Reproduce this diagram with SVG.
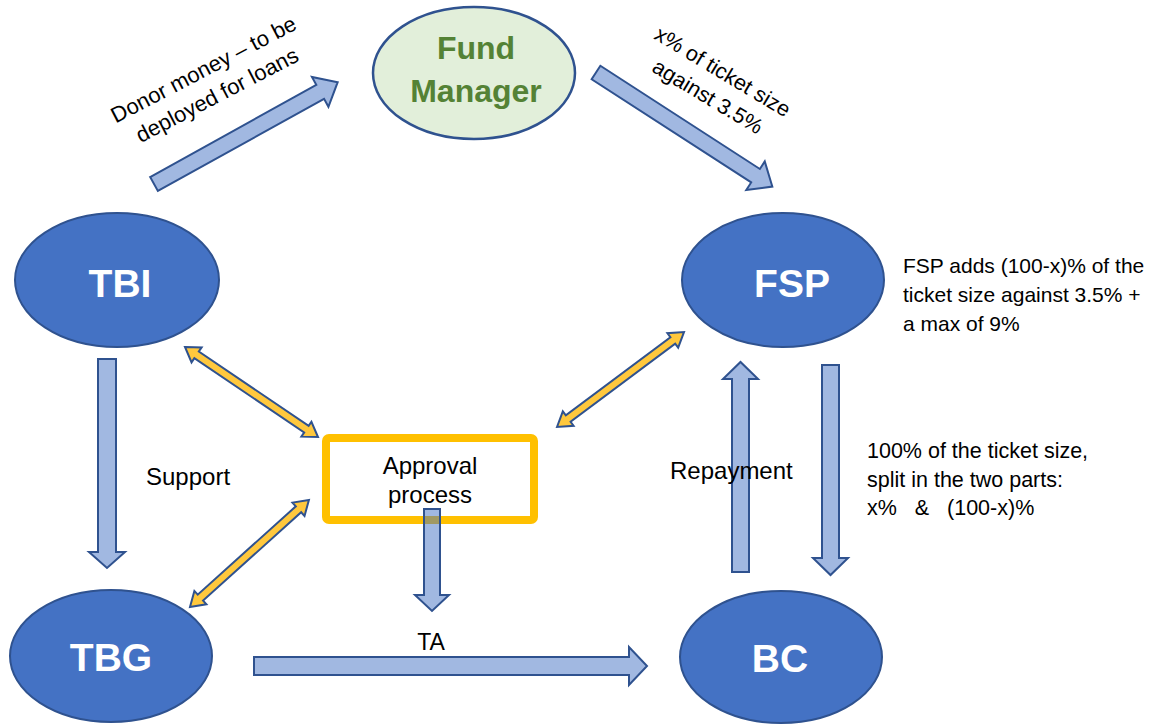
<svg xmlns="http://www.w3.org/2000/svg" width="1150" height="724" viewBox="0 0 1150 724">
  <style>
    .node { fill: #4472C4; stroke: #2F528F; stroke-width: 2; }
    .fm { fill: #E2EFDA; stroke: #2F528F; stroke-width: 2.5; }
    .ntext { font-family: "Liberation Sans", Arial, sans-serif; font-weight: bold; font-size: 39px; fill: #FFFFFF; text-anchor: middle; }
    .fmtext { font-family: "Liberation Sans", Arial, sans-serif; font-weight: bold; font-size: 32px; fill: #548235; text-anchor: middle; }
    .lbl { font-family: "Liberation Sans", Arial, sans-serif; font-size: 21px; fill: #000000; }
    .blue { fill: #4472C4; fill-opacity: 0.5; stroke: #2F528F; stroke-width: 2; stroke-linejoin: miter; }
    .yel { fill: #FFC83D; stroke: #2F528F; stroke-width: 2; stroke-linejoin: miter; }
    .box { fill: #FFFFFF; stroke: #FFC000; stroke-width: 8; }
  </style>
  <defs>
    <path id="diag" d="M0,-8 L190,-8 L190,-17 L210,0 L190,17 L190,8 L0,8 Z"/>
  </defs>

  <g id="node-fund-manager">
    <ellipse class="fm" cx="474" cy="73" rx="101" ry="66"/>
    <text class="fmtext" x="476" y="59">Fund</text>
    <text class="fmtext" x="476" y="102">Manager</text>
  </g>
  <g id="node-tbi">
    <ellipse class="node" cx="117" cy="280" rx="102" ry="67"/>
    <text class="ntext" x="120" y="297">TBI</text>
  </g>
  <g id="node-fsp">
    <ellipse class="node" cx="783" cy="280" rx="101" ry="67"/>
    <text class="ntext" x="792" y="297">FSP</text>
  </g>
  <g id="node-tbg">
    <ellipse class="node" cx="111" cy="656" rx="101" ry="66"/>
    <text class="ntext" x="111" y="671">TBG</text>
  </g>
  <g id="node-bc">
    <ellipse class="node" cx="781" cy="657" rx="101" ry="66"/>
    <text class="ntext" x="780" y="672">BC</text>
  </g>
  <g id="node-approval">
    <rect class="box" x="326" y="438" width="208" height="82" rx="3"/>
    <text class="lbl" x="430" y="474" text-anchor="middle" style="font-size:24px">Approval</text>
    <text class="lbl" x="430" y="503" text-anchor="middle" style="font-size:24px">process</text>
  </g>

  <g id="connectors">
    <use href="#diag" class="blue" transform="translate(154,184) rotate(-29)"/>
    <use href="#diag" class="blue" transform="translate(596,72.5) rotate(32.9)"/>
    <path class="blue" d="M98,359 L116,359 L116,552 L125,552 L107,568 L89,552 L98,552 Z"/>
    <path class="blue" d="M732,572 L732,379 L723,379 L740.5,362 L758,379 L749,379 L749,572 Z"/>
    <path class="blue" d="M822,365 L839,365 L839,558 L848,558 L830.5,575 L813,558 L822,558 Z"/>
    <path class="blue" d="M254,657 L629,657 L629,647 L647,666 L629,685 L629,675 L254,675 Z"/>
    <path class="blue" d="M424,509 L440,509 L440,595 L449,595 L432,611 L415,595 L424,595 Z"/>
    <path class="yel" transform="translate(185,347) rotate(34.1)" d="M0,0 L14,-9 L14,-4 L146.6,-4 L146.6,-9 L160.6,0 L146.6,9 L146.6,4 L14,4 L14,9 Z"/>
    <path class="yel" transform="translate(557,427) rotate(-36.8)" d="M0,0 L14,-9 L14,-4 L144.6,-4 L144.6,-9 L158.6,0 L144.6,9 L144.6,4 L14,4 L14,9 Z"/>
    <path class="yel" transform="translate(190,607) rotate(-42)" d="M0,0 L14,-9 L14,-4 L146,-4 L146,-9 L160,0 L146,9 L146,4 L14,4 L14,9 Z"/>
  </g>

  <g id="labels">
    <g transform="translate(207,76) rotate(-27.5)">
      <text class="lbl" x="0" y="0" text-anchor="middle" style="font-size:22px">Donor money – to be</text>
      <text class="lbl" x="0" y="29" text-anchor="middle" style="font-size:22px">deployed for loans</text>
    </g>
    <g transform="translate(719,78) rotate(31)">
      <text class="lbl" x="0" y="0" text-anchor="middle" style="font-size:21.5px">x% of ticket size</text>
      <text class="lbl" x="0" y="29" text-anchor="middle" style="font-size:21.5px">against 3.5%</text>
    </g>
    <text class="lbl" x="146" y="485" style="font-size:24px">Support</text>
    <text class="lbl" x="670" y="479" style="font-size:24px">Repayment</text>
    <text class="lbl" x="431" y="650" text-anchor="middle" style="font-size:23px">TA</text>
    <text class="lbl" x="903" y="273">FSP adds (100-x)% of the</text>
    <text class="lbl" x="903" y="302">ticket size against 3.5% +</text>
    <text class="lbl" x="903" y="331">a max of 9%</text>
    <text class="lbl" x="867" y="458" style="font-size:21.5px">100% of the ticket size,</text>
    <text class="lbl" x="867" y="487" style="font-size:21.5px">split in the two parts:</text>
    <text class="lbl" x="867" y="515" style="font-size:21.5px" xml:space="preserve">x%   &amp;   (100-x)%</text>
  </g>
</svg>
